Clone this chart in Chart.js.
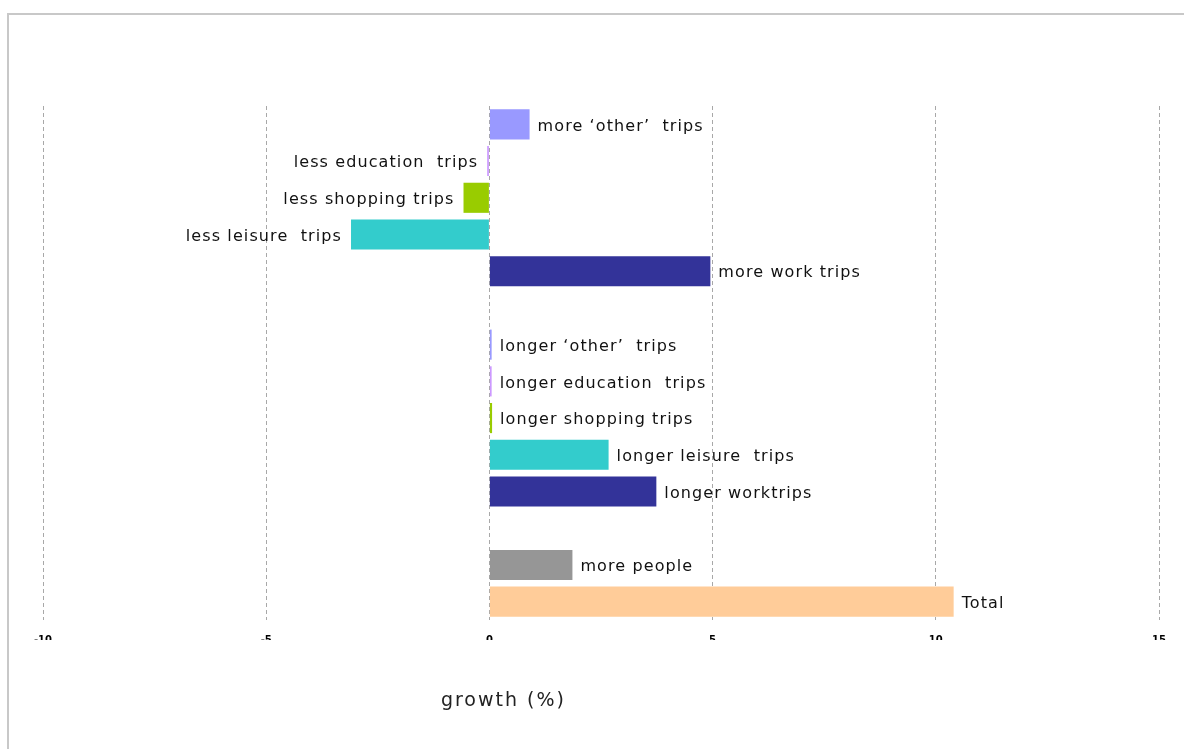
<!DOCTYPE html>
<html>
<head>
<meta charset="utf-8">
<script src="https://cdn.jsdelivr.net/npm/chart.js@4"></script>
<style>
  html, body { margin: 0; padding: 0; background: #fff; }
  #wrap { position: relative; width: 1184px; height: 749px; }
</style>
</head>
<body>
<div id="wrap"><canvas id="myChart" width="1184" height="749"></canvas></div>
<script>
// rows top to bottom, '' = empty spacer row
const categories = [
    "more \u2018other\u2019  trips", "less education  trips", "less shopping trips", "less leisure  trips", "more work trips",
    "",
    "longer \u2018other\u2019  trips", "longer education  trips", "longer shopping trips", "longer leisure  trips", "longer worktrips",
    "",
    "more people", "Total"
];
const growth = [0.9, -0.05, -0.58, -3.1, 4.95, null, 0.05, 0.05, 0.06, 2.67, 3.74, null, 1.86, 10.4];
const barColors = ['#9999FF', '#CC99FF', '#99CC00', '#33CCCC', '#333399', '#ffffff',
                   '#9999FF', '#CC99FF', '#99CC00', '#33CCCC', '#333399', '#ffffff',
                   '#969696', '#FFCC99'];
const xTicks = [-10, -5, 0, 5, 10, 15];

function buildChart() {
    // labels next to the bar ends + axis title + outer frame
    const extras = {
        id: 'extras',
        beforeDraw(chart) {
            const ctx = chart.ctx;
            ctx.save();
            ctx.strokeStyle = '#c8c8c8';
            ctx.lineWidth = 2;
            ctx.strokeRect(8, 14, 1200, 800);
            ctx.restore();
        },
        afterDatasetsDraw(chart) {
            const ctx = chart.ctx;
            const meta = chart.getDatasetMeta(0);
            ctx.save();
            ctx.font = '16px "DejaVu Sans", sans-serif';
            ctx.letterSpacing = '1.1px';
            ctx.fillStyle = '#111';
            ctx.textBaseline = 'middle';
            meta.data.forEach((bar, i) => {
                const v = growth[i];
                if (v === null || !categories[i]) return;
                if (v < 0) {
                    ctx.textAlign = 'right';
                    ctx.fillText(categories[i], bar.x - 9, bar.y + 2);
                } else {
                    ctx.textAlign = 'left';
                    ctx.fillText(categories[i], bar.x + 8, bar.y + 2);
                }
            });
            ctx.font = '19px "DejaVu Sans", sans-serif';
            ctx.letterSpacing = '2px';
            ctx.textAlign = 'center';
            ctx.fillStyle = '#222';
            ctx.fillText('growth (%)', chart.scales.x.getPixelForValue(0) + 14, 701);
            ctx.restore();
        }
    };

    const config = {
        type: 'bar',
        data: {
            labels: categories,
            datasets: [{
                data: growth,
                backgroundColor: barColors,
                borderWidth: 0,
                categoryPercentage: 0.82,
                barPercentage: 1.0
            }]
        },
        options: {
            indexAxis: 'y',
            responsive: false,
            animation: false,
            layout: { padding: { left: 43, right: 25, top: 106, bottom: 109 } },
            plugins: {
                legend: { display: false },
                tooltip: { enabled: false }
            },
            scales: {
                x: {
                    min: -10,
                    max: 15,
                    afterBuildTicks: (scale) => { scale.ticks = xTicks.map(v => ({ value: v })); },
                    afterFit: (scale) => { scale.height = 20; },
                    grid: {
                        drawTicks: false,
                        color: '#a8a8a8',
                        lineWidth: 1
                    },
                    border: { display: false, dash: [4, 3] },
                    ticks: {
                        padding: 14,
                        color: '#000',
                        font: { size: 10, weight: 'bold', family: '"DejaVu Sans", sans-serif' }
                    }
                },
                y: {
                    display: false,
                    grid: { display: false }
                }
            }
        },
        plugins: [extras]
    };

    new Chart(document.getElementById('myChart').getContext('2d'), config);
}
buildChart();
</script>
</body>
</html>
